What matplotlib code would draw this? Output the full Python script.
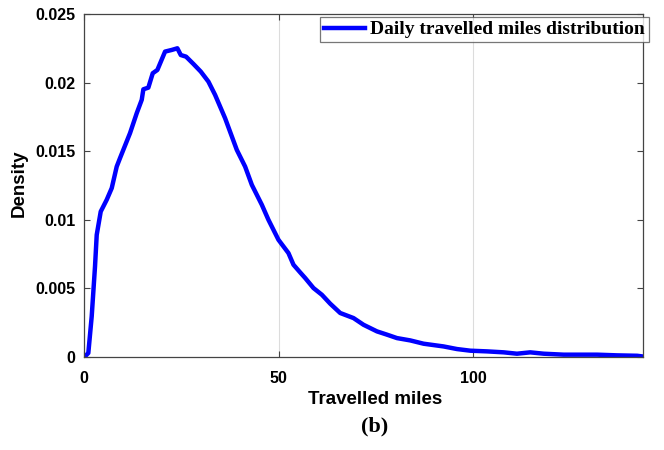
import numpy as np
import matplotlib
matplotlib.use('Agg')
import matplotlib.pyplot as plt
from matplotlib.ticker import FixedLocator, FuncFormatter

# daily travelled miles density
miles = [0, 0.26, 1.11, 1.98, 2.83, 3.27, 4.30, 5.84, 7.13, 8.41, 9.26, 11.83,
         13.56, 14.84, 15.26, 16.54, 17.67, 18.86, 20.84, 22.56, 24.0, 24.88,
         26.24, 28.12, 30.02, 31.98, 33.70, 36.27, 39.28, 41.42, 43.14, 45.72,
         47.41, 49.99, 52.56, 53.85, 55.57, 56.86, 58.99, 61.15, 63.29, 65.86,
         69.28, 71.86, 75.30, 77.88, 80.45, 83.87, 87.29, 92.44, 95.88, 99.31,
         103.6, 107.9, 111.3, 114.7, 118.2, 123.3, 131.9, 137.0, 142.2, 143.6]
density = [0, 0.00004, 0.00029, 0.00296, 0.0066, 0.00891, 0.01061, 0.01147,
           0.01232, 0.01389, 0.01451, 0.01633, 0.01779, 0.01876, 0.01953,
           0.01965, 0.0207, 0.02094, 0.02228, 0.0224, 0.02252, 0.02203,
           0.02191, 0.02138, 0.02082, 0.02009, 0.01912, 0.01742, 0.01511,
           0.01389, 0.01256, 0.0111, 0.01001, 0.00855, 0.00758, 0.00673,
           0.00617, 0.00576, 0.00503, 0.00454, 0.00389, 0.00321, 0.00284,
           0.00235, 0.00187, 0.00163, 0.00138, 0.00121, 0.00097, 0.00077,
           0.00058, 0.00046, 0.00041, 0.00034, 0.00024, 0.00034, 0.00024,
           0.00017, 0.00017, 0.00012, 0.00009, 0.00004]

xticks = [0, 50, 100]
yticks = [0, 0.005, 0.01, 0.015, 0.02, 0.025]

sans = ['Liberation Sans', 'DejaVu Sans']
serif = ['Liberation Serif', 'DejaVu Serif']

fig = plt.figure(figsize=(6.64, 4.5), dpi=100)
ax = fig.add_axes([84/664, 1-357/450, (643-84)/664, (357-14.3)/450])

ax.plot(miles, density, color='#0000ff', lw=3.2,
        label='Daily travelled miles distribution')

ax.set_xlim(0, 143.7)
ax.set_ylim(0, 0.025)
ax.xaxis.set_major_locator(FixedLocator(xticks))
ax.yaxis.set_major_locator(FixedLocator(yticks))
ax.yaxis.set_major_formatter(FuncFormatter(lambda v, p: '%g' % v))
ax.grid(axis='x', color='#dcdcdc', lw=0.8)
ax.tick_params(direction='in', top=True, right=True, length=4,
               color='#444444', width=0.8, pad=6)
ax.tick_params(axis='x', pad=10)
for lab in ax.get_xticklabels() + ax.get_yticklabels():
    lab.set_family(sans)
    lab.set_fontweight('bold')
    lab.set_fontsize(11.5)
for s in ax.spines.values():
    s.set_color('#444444')
    s.set_linewidth(0.9)

ax.set_xlabel('Travelled miles', family=sans, fontweight='bold',
              fontsize=13.5, va='center')
ax.xaxis.set_label_coords((375-84)/559, (357-400)/342.7)
ax.set_ylabel('Density', family=sans, fontweight='bold',
              fontsize=13.5, va='center')
ax.yaxis.set_label_coords((19-84)/559, (357-183)/342.7)

leg = ax.legend(loc='upper right', bbox_to_anchor=(649/664, 1-17/450),
                bbox_transform=fig.transFigure, fancybox=False,
                handlelength=2.1, handletextpad=0.3, borderpad=0.2,
                borderaxespad=0, prop={'family': serif, 'weight': 'bold',
                                       'size': 14})
leg.get_frame().set_edgecolor('#555555')
leg.get_frame().set_linewidth(0.9)

fig.text(375/664, 1-426/450, '(b)', family=serif, fontweight='bold',
         fontsize=16, ha='center', va='center')

fig.savefig('out.png', dpi=100)
